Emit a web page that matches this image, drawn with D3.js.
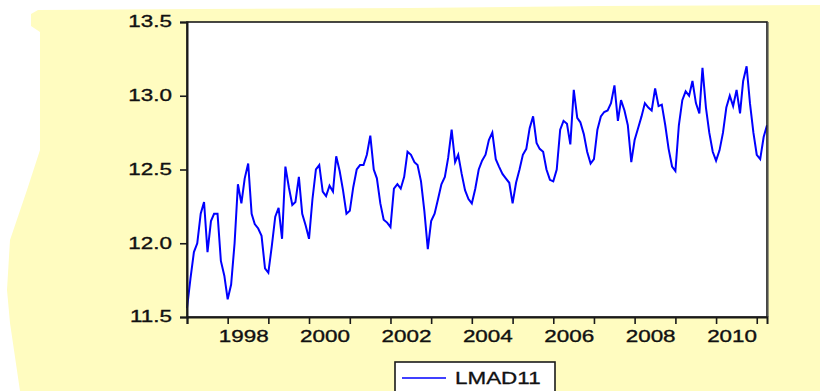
<!DOCTYPE html>
<html><head><meta charset="utf-8">
<script src="https://cdn.jsdelivr.net/npm/d3@7"></script>
<style>body{margin:0;background:#fff}svg{display:block}</style>
</head><body>
<svg id="c" width="820" height="391"></svg>
<script>
// ---- data ----
const startMonth = "1996-07";
const seriesName = "LMAD11";
const values = [
11.56,11.76,11.94,12.00,12.20,12.28,11.94,12.15,12.20,12.20,11.88,11.78,
11.62,11.72,12.00,12.40,12.27,12.44,12.54,12.20,12.13,12.10,12.05,11.83,
11.80,11.98,12.18,12.24,12.03,12.52,12.38,12.26,12.28,12.45,12.20,12.12,
12.03,12.30,12.50,12.53,12.35,12.32,12.39,12.35,12.59,12.49,12.36,12.20,
12.22,12.38,12.50,12.53,12.53,12.60,12.73,12.50,12.44,12.27,12.16,12.14,
12.11,12.37,12.40,12.37,12.45,12.62,12.60,12.55,12.53,12.42,12.22,11.96,
12.15,12.20,12.30,12.40,12.45,12.58,12.77,12.55,12.60,12.47,12.36,12.30,
12.27,12.37,12.50,12.56,12.60,12.70,12.75,12.57,12.52,12.47,12.44,12.41,
12.27,12.41,12.50,12.60,12.64,12.78,12.86,12.68,12.64,12.62,12.50,12.43,
12.42,12.50,12.77,12.83,12.81,12.67,13.04,12.85,12.82,12.74,12.62,12.54,
12.57,12.77,12.86,12.89,12.90,12.95,13.07,12.83,12.97,12.90,12.80,12.55,
12.70,12.78,12.86,12.95,12.92,12.90,13.05,12.93,12.94,12.80,12.64,12.52,
12.49,12.80,12.97,13.03,13.00,13.10,12.95,12.88,13.19,12.92,12.75,12.62,
12.56,12.63,12.75,12.92,13.00,12.93,13.04,12.88,13.10,13.20,12.95,12.75,
12.60,12.57,12.72,12.80
];
const yTicks = [11.5, 12.0, 12.5, 13.0, 13.5];
const xLabelYears = [1998, 2000, 2002, 2004, 2006, 2008, 2010];

// ---- layout ----
const svg = d3.select("#c");
const L = 187, R = 767, T = 22, B = 317;
const SX = 1.36, FS = 16.5, FONT = "'Liberation Sans', Arial, sans-serif";

const start = d3.timeParse("%Y-%m")(startMonth);
const dates = values.map((v, i) => d3.timeMonth.offset(start, i));
const data = values.map((v, i) => ({date: dates[i], value: v}));

// yellow backdrop
const blob = [[38,10],[200,9],[410,8],[600,6],[820,5],[820,391],[20,391],[15,357],[10,323],[7,290],[10,240],[27,190],[40,150],[40,32],[31,26],[31,14]];
svg.append("path")
  .attr("d", d3.line().curve(d3.curveLinearClosed)(blob))
  .attr("fill", "#FFFCC0");

const x = d3.scaleTime().domain([dates[0], dates[dates.length - 1]]).range([L, R]);
const y = d3.scaleLinear().domain([11.5, 13.5]).range([B, T]);

svg.append("rect").attr("x", L).attr("y", T).attr("width", R - L).attr("height", B - T)
  .attr("fill", "#fff");

// series
svg.append("path").datum(data)
  .attr("fill", "none").attr("stroke", "#0000FF").attr("stroke-width", 2)
  .attr("stroke-linejoin", "miter")
  .attr("d", d3.line().x(d => x(d.date)).y(d => y(d.value)));

// frame
svg.append("rect").attr("x", L).attr("y", T).attr("width", R - L).attr("height", B - T)
  .attr("fill", "none").attr("stroke", "#1a1a1a").attr("stroke-width", 1.6);
svg.append("line").attr("x1", R + 1).attr("x2", R + 1).attr("y1", T).attr("y2", B)
  .attr("stroke", "#555").attr("stroke-width", 1.2);

// y axis
const gy = svg.append("g").attr("transform", `translate(${L},0)`)
  .call(d3.axisLeft(y).tickValues(yTicks).tickSize(7).tickFormat(d3.format(".1f")));
gy.select(".domain").attr("stroke", "#1a1a1a").attr("stroke-width", 2);
gy.selectAll(".tick line").attr("stroke", "#1a1a1a").attr("stroke-width", 1.6);
gy.selectAll(".tick text")
  .attr("font-family", FONT).attr("font-size", FS).attr("fill", "#111")
  .attr("stroke", "#111").attr("stroke-width", 0.35)
  .attr("transform", `scale(${SX},1)`).attr("x", -15 / SX).attr("dy", "0.3em");

// x axis ticks (one per year)
const tickDates = d3.range(0, dates.length, 12).map(i => dates[i]);
const gx = svg.append("g").attr("transform", `translate(0,${B})`)
  .call(d3.axisBottom(x).tickValues(tickDates).tickSize(7).tickFormat(""));
gx.select(".domain").attr("stroke", "#1a1a1a").attr("stroke-width", 2);
gx.selectAll(".tick line").attr("stroke", "#1a1a1a").attr("stroke-width", 1.6);

// x labels
const labelDates = xLabelYears.map(yr => new Date(yr, 0, 1));
const gl = svg.append("g").attr("transform", `translate(0,${B})`)
  .call(d3.axisBottom(x).tickValues(labelDates).tickSize(0).tickFormat(d3.timeFormat("%Y")));
gl.select(".domain").remove();
gl.selectAll(".tick text")
  .attr("font-family", FONT).attr("font-size", FS).attr("fill", "#111")
  .attr("stroke", "#111").attr("stroke-width", 0.35)
  .attr("transform", `scale(${SX},1)`).attr("x", -5 / SX).attr("y", 19).attr("dy", "0.35em");

// legend
const lg = svg.append("g");
lg.append("rect").attr("x", 395).attr("y", 362).attr("width", 160).attr("height", 45)
  .attr("fill", "#fff").attr("stroke", "#1a1a1a").attr("stroke-width", 1.6);
lg.append("line").attr("x1", 402).attr("x2", 446).attr("y1", 378).attr("y2", 378)
  .attr("stroke", "#0000FF").attr("stroke-width", 1.5);
lg.append("text").attr("transform", `translate(455,378) scale(${SX},1)`)
  .attr("dy", "0.35em").attr("font-family", FONT).attr("font-size", FS).attr("fill", "#111")
  .attr("stroke", "#111").attr("stroke-width", 0.3)
  .text(seriesName);
</script>
</body></html>
